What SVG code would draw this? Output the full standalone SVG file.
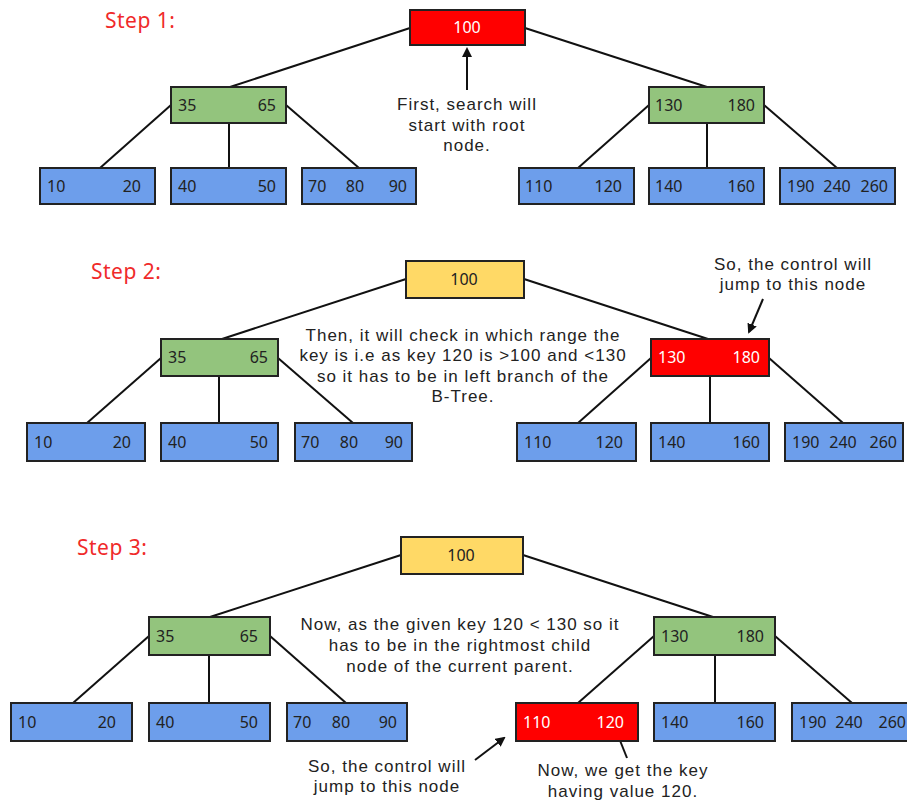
<svg xmlns="http://www.w3.org/2000/svg" width="907" height="803" viewBox="0 0 907 803">
<style>
rect{stroke:#222;stroke-width:2}
.r{fill:#ff0000}.g{fill:#93c47d}.b{fill:#6d9eeb}.y{fill:#ffd966}
text{font-family:"Noto Sans","Liberation Sans",sans-serif}
.k{font-size:16px;fill:#222}
.w{fill:#fff}
.e{text-anchor:end}.m{text-anchor:middle}
.s{font-size:21px;fill:#f02a2a;letter-spacing:0.5px}
.a{font-family:"Liberation Sans",Arial,sans-serif;font-size:17px;fill:#222;text-anchor:middle;letter-spacing:1px}
#edges line{stroke:#111;stroke-width:2}
.arr{stroke:#111;stroke-width:2;marker-end:url(#ah)}
</style>
<defs>
<marker id="ah" viewBox="0 0 10 10" refX="8" refY="5" markerWidth="5" markerHeight="5" orient="auto"><path d="M0,0L10,5L0,10z" fill="#111"/></marker>
</defs>
<rect width="907" height="803" fill="#fff" style="stroke:none"/>

<g id="edges">
<line x1="410" y1="28" x2="230" y2="87"/>
<line x1="525" y1="28" x2="707" y2="87"/>
<line x1="171" y1="105" x2="100" y2="168"/>
<line x1="229" y1="123" x2="229" y2="168"/>
<line x1="286" y1="105" x2="359" y2="168"/>
<line x1="649" y1="105" x2="578" y2="168"/>
<line x1="707" y1="123" x2="707" y2="168"/>
<line x1="764" y1="105" x2="837" y2="168"/>

<line x1="406" y1="279" x2="222" y2="339"/>
<line x1="524" y1="279" x2="708" y2="339"/>
<line x1="161" y1="358" x2="87" y2="423"/>
<line x1="219" y1="376" x2="219" y2="423"/>
<line x1="278" y1="358" x2="353" y2="423"/>
<line x1="651" y1="358" x2="578" y2="423"/>
<line x1="710" y1="376" x2="710" y2="423"/>
<line x1="769" y1="358" x2="843" y2="423"/>

<line x1="401" y1="555" x2="210" y2="617"/>
<line x1="523" y1="555" x2="713" y2="617"/>
<line x1="149" y1="636" x2="73" y2="703"/>
<line x1="209" y1="655" x2="209" y2="703"/>
<line x1="270" y1="636" x2="346" y2="703"/>
<line x1="654" y1="636" x2="578" y2="703"/>
<line x1="715" y1="655" x2="715" y2="703"/>
<line x1="775" y1="636" x2="852" y2="703"/>

<line class="arr" x1="467" y1="90" x2="467" y2="49"/>
<line class="arr" x1="763" y1="299" x2="749" y2="332"/>
<line class="arr" x1="475" y1="760" x2="504" y2="738"/>
<line class="arr" x1="627" y1="758" x2="615" y2="728"/>
</g>

<!-- Step 1 -->
<text class="s" x="105" y="28">Step 1:</text>
<g id="s1-root"><rect class="r" x="410" y="10" width="115" height="35"/><text class="k w m" x="467" y="33">100</text></g>
<g id="s1-g1"><rect class="g" x="171" y="87" width="115" height="36"/><text class="k" x="178" y="111">35</text><text class="k e" x="276" y="111">65</text></g>
<g id="s1-g2"><rect class="g" x="649" y="87" width="115" height="36"/><text class="k" x="655" y="111">130</text><text class="k e" x="755" y="111">180</text></g>
<g id="s1-l1"><rect class="b" x="40" y="168" width="115" height="36"/><text class="k" x="47" y="192">10</text><text class="k e" x="141" y="192">20</text></g>
<g id="s1-l2"><rect class="b" x="171" y="168" width="115" height="36"/><text class="k" x="178" y="192">40</text><text class="k e" x="276" y="192">50</text></g>
<g id="s1-l3"><rect class="b" x="302" y="168" width="114" height="36"/><text class="k" x="308" y="192">70</text><text class="k m" x="355" y="192">80</text><text class="k e" x="407" y="192">90</text></g>
<g id="s1-l4"><rect class="b" x="519" y="168" width="115" height="36"/><text class="k" x="525" y="192">110</text><text class="k e" x="622" y="192">120</text></g>
<g id="s1-l5"><rect class="b" x="649" y="168" width="115" height="36"/><text class="k" x="655" y="192">140</text><text class="k e" x="755" y="192">160</text></g>
<g id="s1-l6"><rect class="b" x="780" y="168" width="115" height="36"/><text class="k" x="787" y="192">190</text><text class="k m" x="837" y="192">240</text><text class="k e" x="888" y="192">260</text></g>
<text class="a"><tspan x="467" y="110">First, search will</tspan><tspan x="467" y="131">start with root</tspan><tspan x="467" y="151">node.</tspan></text>

<!-- Step 2 -->
<text class="s" x="91" y="279">Step 2:</text>
<g id="s2-root"><rect class="y" x="406" y="261" width="118" height="37"/><text class="k m" x="464" y="285">100</text></g>
<g id="s2-g1"><rect class="g" x="161" y="339" width="117" height="37"/><text class="k" x="168" y="363">35</text><text class="k e" x="268" y="363">65</text></g>
<g id="s2-g2"><rect class="r" x="651" y="339" width="118" height="37"/><text class="k w" x="658" y="363">130</text><text class="k w e" x="760" y="363">180</text></g>
<g id="s2-l1"><rect class="b" x="27" y="423" width="118" height="38"/><text class="k" x="34" y="448">10</text><text class="k e" x="131" y="448">20</text></g>
<g id="s2-l2"><rect class="b" x="161" y="423" width="117" height="38"/><text class="k" x="168" y="448">40</text><text class="k e" x="268" y="448">50</text></g>
<g id="s2-l3"><rect class="b" x="295" y="423" width="117" height="38"/><text class="k" x="301" y="448">70</text><text class="k m" x="349" y="448">80</text><text class="k e" x="403" y="448">90</text></g>
<g id="s2-l4"><rect class="b" x="517" y="423" width="119" height="38"/><text class="k" x="524" y="448">110</text><text class="k e" x="623" y="448">120</text></g>
<g id="s2-l5"><rect class="b" x="651" y="423" width="118" height="38"/><text class="k" x="658" y="448">140</text><text class="k e" x="760" y="448">160</text></g>
<g id="s2-l6"><rect class="b" x="785" y="423" width="118" height="38"/><text class="k" x="792" y="448">190</text><text class="k m" x="843" y="448">240</text><text class="k e" x="897" y="448">260</text></g>
<text class="a"><tspan x="463" y="341">Then, it will check in which range the</tspan><tspan x="463" y="361">key is i.e as key 120 is &gt;100 and &lt;130</tspan><tspan x="463" y="382">so it has to be in left branch of the</tspan><tspan x="463" y="402">B-Tree.</tspan></text>
<text class="a"><tspan x="793" y="270">So, the control will</tspan><tspan x="793" y="290">jump to this node</tspan></text>

<!-- Step 3 -->
<text class="s" x="77" y="555">Step 3:</text>
<g id="s3-root"><rect class="y" x="401" y="537" width="122" height="37"/><text class="k m" x="461" y="561">100</text></g>
<g id="s3-g1"><rect class="g" x="149" y="617" width="121" height="38"/><text class="k" x="156" y="642">35</text><text class="k e" x="258" y="642">65</text></g>
<g id="s3-g2"><rect class="g" x="654" y="617" width="121" height="38"/><text class="k" x="661" y="642">130</text><text class="k e" x="764" y="642">180</text></g>
<g id="s3-l1"><rect class="b" x="11" y="703" width="121" height="38"/><text class="k" x="18" y="728">10</text><text class="k e" x="116" y="728">20</text></g>
<g id="s3-l2"><rect class="b" x="149" y="703" width="121" height="38"/><text class="k" x="156" y="728">40</text><text class="k e" x="258" y="728">50</text></g>
<g id="s3-l3"><rect class="b" x="287" y="703" width="120" height="38"/><text class="k" x="293" y="728">70</text><text class="k m" x="341" y="728">80</text><text class="k e" x="397" y="728">90</text></g>
<g id="s3-l4"><rect class="r" x="516" y="703" width="122" height="38"/><text class="k w" x="523" y="728">110</text><text class="k w e" x="624" y="728">120</text></g>
<g id="s3-l5"><rect class="b" x="654" y="703" width="121" height="38"/><text class="k" x="661" y="728">140</text><text class="k e" x="764" y="728">160</text></g>
<g id="s3-l6"><rect class="b" x="792" y="703" width="121" height="38"/><text class="k" x="799" y="728">190</text><text class="k m" x="849" y="728">240</text><text class="k e" x="906" y="728">260</text></g>
<text class="a"><tspan x="460" y="630">Now, as the given key 120 &lt; 130 so it</tspan><tspan x="460" y="651">has to be in the rightmost child</tspan><tspan x="460" y="672">node of the current parent.</tspan></text>
<text class="a"><tspan x="387" y="772">So, the control will</tspan><tspan x="387" y="792">jump to this node</tspan></text>
<text class="a"><tspan x="623" y="776">Now, we get the key</tspan><tspan x="623" y="797">having value 120.</tspan></text>
</svg>
